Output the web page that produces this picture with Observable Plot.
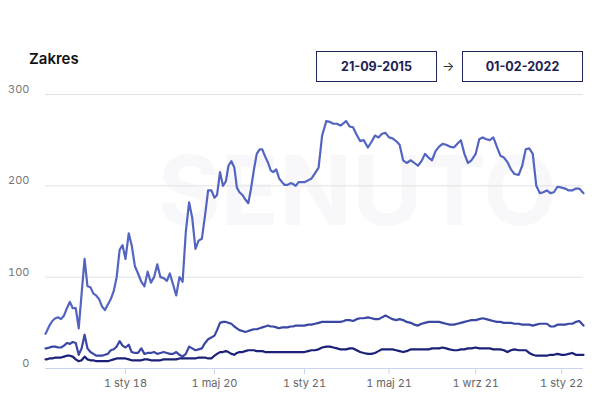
<!DOCTYPE html>
<html><head><meta charset="utf-8">
<script src="https://cdn.jsdelivr.net/npm/d3@7"></script>
<script src="https://cdn.jsdelivr.net/npm/@observablehq/plot@0.6"></script>
<style>
body{margin:0;background:#fff;font-family:Inter,"Open Sans",sans-serif;}
#wrap{position:relative;width:598px;height:400px;overflow:hidden;background:#fff;}
#chart{position:absolute;left:0;top:0;}
#title{position:absolute;left:29px;top:49px;font-size:15px;font-weight:600;color:#111;}
.box{position:absolute;top:51px;height:31px;width:121px;border:1.5px solid #1f2459;box-sizing:border-box;display:flex;align-items:center;justify-content:center;font-size:12.5px;font-weight:700;color:#1c2150;background:#fff;}
#arrow{position:absolute;left:442px;top:58px;font-size:13px;color:#333;}
</style></head>
<body>
<div id="wrap">
  <div id="chart"></div>
  <div id="title">Zakres</div>
  <div class="box" style="left:316px">21-09-2015</div>
  <div id="arrow">→</div>
  <div class="box" style="left:462px">01-02-2022</div>
</div>
<script>
// ---- dates (sampling of the series) ----
const datesMonthly = ["2015-09-21","2015-10-01","2015-11-01","2015-12-01",
"2016-01-01","2016-02-01","2016-03-01","2016-04-01","2016-05-01","2016-06-01","2016-07-01","2016-08-01","2016-09-01","2016-10-01","2016-11-01","2016-12-01",
"2017-01-01","2017-02-01","2017-03-01","2017-04-01","2017-05-01","2017-06-01","2017-07-01","2017-08-01","2017-09-01","2017-10-01","2017-11-01","2017-12-01",
"2018-01-01","2018-02-01","2018-03-01","2018-04-01","2018-05-01","2018-06-01","2018-07-01","2018-08-01","2018-09-01","2018-10-01","2018-11-01","2018-12-01",
"2019-01-01","2019-02-01","2019-03-01","2019-04-01","2019-05-01","2019-06-01","2019-07-01","2019-08-01","2019-09-01","2019-10-01","2019-11-01","2019-12-01",
"2020-01-01","2020-02-01","2020-03-01","2020-04-01"];
const datesWeekly = ["2020-05-01","2020-05-08","2020-05-16","2020-05-24","2020-06-01","2020-06-08","2020-06-16","2020-06-24",
"2020-07-01","2020-07-08","2020-07-16","2020-07-24","2020-08-01","2020-08-08","2020-08-16","2020-08-24",
"2020-09-01","2020-09-08","2020-09-16","2020-09-24","2020-10-01","2020-10-08","2020-10-16","2020-10-24",
"2020-11-01","2020-11-08","2020-11-16","2020-11-24","2020-12-01","2020-12-08","2020-12-16","2020-12-24"];
const datesDaily = [
"2021-01-01","2021-01-06","2021-01-11","2021-01-16","2021-01-21","2021-01-26",
"2021-02-01","2021-02-06","2021-02-11","2021-02-16","2021-02-21","2021-02-26",
"2021-03-01","2021-03-06","2021-03-11","2021-03-16","2021-03-21","2021-03-26",
"2021-04-01","2021-04-06","2021-04-11","2021-04-16","2021-04-21","2021-04-26",
"2021-05-01","2021-05-06","2021-05-11","2021-05-16","2021-05-21","2021-05-26",
"2021-06-01","2021-06-06","2021-06-11","2021-06-16","2021-06-21","2021-06-26",
"2021-07-01","2021-07-06","2021-07-11","2021-07-16","2021-07-21","2021-07-26",
"2021-08-01","2021-08-06","2021-08-11","2021-08-16","2021-08-21","2021-08-26",
"2021-09-01","2021-09-06","2021-09-11","2021-09-16","2021-09-21","2021-09-26",
"2021-10-01","2021-10-06","2021-10-11","2021-10-16","2021-10-21","2021-10-26",
"2021-11-01","2021-11-06","2021-11-11","2021-11-16","2021-11-21","2021-11-26",
"2021-12-01","2021-12-06","2021-12-11","2021-12-16","2021-12-21","2021-12-26",
"2022-01-01","2022-01-06","2022-01-11","2022-01-16","2022-01-21","2022-01-26",
"2022-02-01"];

// ---- series values ----
const topMonthly = [38,40,47,52, 55,56,54,58,66,73,66,66,44,82,120,90, 89,82,80,76,68,64,70,76,85,100,130,135,
 120,148,135,112,104,95,90,106,94,100,114,100, 99,96,104,92,80,100,95,150,182,165,131,140, 142,168,195,195];
const topWeekly = [187,190,215,200, 205,222,227,220, 198,193,190,185, 181,196,217,235, 240,240,232,225, 217,215,218,208, 204,201,201,203, 202,200,204,204];
const topDaily = [204,206,208,214,220,255, 271,270,268,268,266,269, 271,265,264,256,249,250, 242,248,255,253,257,258,
 253,252,249,245,228,225, 228,225,222,227,235,231, 228,238,243,246,245,243, 242,246,250,235,225,228,
 235,251,253,251,250,253, 243,233,231,226,218,213, 212,222,240,241,235,200, 192,193,195,192,193,199,
 198,197,195,195,197,197, 192];

const midMonthly = [22,22,23,24, 24,23,23,25,28,27,29,28,15,22,37,22, 18,16,14,14,14,15,16,20,21,24,30,25,
 23,26,18,17,17,22,16,17,17,18,16,17, 18,17,16,16,18,15,13,16,24,22,20,21, 22,28,32,34];
const midWeekly = [36,42,50,51, 51,50,49,46, 44,42,41,40, 41,42,43,43, 44,45,46,47, 46,46,45,44, 45,45,45,46, 46,47,47,47];
const midDaily = [47,48,48,49,50,51, 51,51,51,51,51,52, 53,53,52,54,55,55, 56,55,54,54,56,58,
 56,54,53,54,53,51, 50,48,47,49,50,51, 51,51,51,50,49,48, 48,49,50,51,52,53,
 53,54,55,54,53,52, 51,51,50,50,50,49, 49,48,48,48,47,48, 49,49,49,46,46,48,
 48,48,49,49,51,52, 47];

const lowMonthly = [10,10,11,11, 12,12,12,13,14,14,13,10,8,9,13,10, 9,9,8,8,8,8,8,9,10,11,11,11,
 11,10,9,9,9,9,10,10,9,9,9,9, 10,10,10,10,10,11,11,11,11,11,11,12, 12,12,11,11];
const lowWeekly = [14,16,18,18, 19,18,16,15, 17,18,18,19, 20,20,20,19, 19,19,18,18, 18,18,18,18, 18,18,18,18, 18,18,18,18];
const lowDaily = [18,19,20,20,21,23, 24,24,23,22,21,21, 21,22,22,20,18,17, 16,16,17,19,21,21,
 21,21,20,19,18,19, 21,21,21,21,21,21, 22,22,22,23,22,21, 20,20,21,21,22,22,
 23,22,22,22,22,21, 21,21,20,18,20,21, 20,20,20,17,15,14, 14,14,14,15,15,16,
 15,15,16,17,15,15, 15];

// ---- axis ticks ----
const xTickDates = ["2018-01-01","2020-05-01","2021-01-01","2021-05-01","2021-09-01","2022-01-01"];
const xTickLabels = ["1 sty 18","1 maj 20","1 sty 21","1 maj 21","1 wrz 21","1 sty 22"];
const yTicks = [0,100,200,300];

// ---- build table ----
const dates = [...datesMonthly, ...datesWeekly, ...datesDaily].map(s => new Date(s));
const topV = [...topMonthly, ...topWeekly, ...topDaily];
const midV = [...midMonthly, ...midWeekly, ...midDaily];
const lowV = [...lowMonthly, ...lowWeekly, ...lowDaily];
const rows = dates.map((d, i) => ({date: d, top: topV[i], mid: midV[i], low: lowV[i]}));
const xTicks = xTickDates.map(s => new Date(s));
const fmtX = d => xTickLabels[xTicks.findIndex(t => +t === +d)];

const chart = Plot.plot({
  width: 598,
  height: 400,
  marginTop: 94,
  marginBottom: 32,
  marginLeft: 45,
  marginRight: 15,
  style: {fontFamily: "Inter, 'Open Sans', sans-serif", background: "transparent"},
  x: {type: "utc",
      domain: [new Date("2015-09-21"), new Date("2018-01-01"), new Date("2020-05-01"), new Date("2021-01-01"), new Date("2022-02-01")],
      range: [45, 125, 214, 304, 583]},
  y: {domain: [0, 300]},
  marks: [
    Plot.text(["SENUTO"], {frameAnchor: "middle", dx: 43, dy: -37, fontSize: 96, fontWeight: 700, fill: "#f8f8fa"}),
    Plot.gridY(yTicks.filter(t => t > 0), {stroke: "#e2e2e2", strokeOpacity: 1, strokeWidth: 1}),
    Plot.ruleY([0], {stroke: "#c9d5ec", strokeWidth: 1.2}),
    Plot.axisY({ticks: yTicks, tickSize: 0, tickPadding: 16, dy: -5, fontSize: 11, color: "#777", label: null}),
    Plot.axisX({ticks: xTicks, tickFormat: fmtX, tickSize: 6, tickPadding: 5, stroke: "#c9d5ec", fontSize: 11, color: "#666", label: null}),
    Plot.line(rows, {x: "date", y: "top", stroke: "#5465bf", strokeWidth: 2.2}),
    Plot.line(rows, {x: "date", y: "mid", stroke: "#3a47a3", strokeWidth: 2.2}),
    Plot.line(rows, {x: "date", y: "low", stroke: "#1b2078", strokeWidth: 2.2})
  ]
});
document.getElementById("chart").appendChild(chart);
</script>
</body></html>
